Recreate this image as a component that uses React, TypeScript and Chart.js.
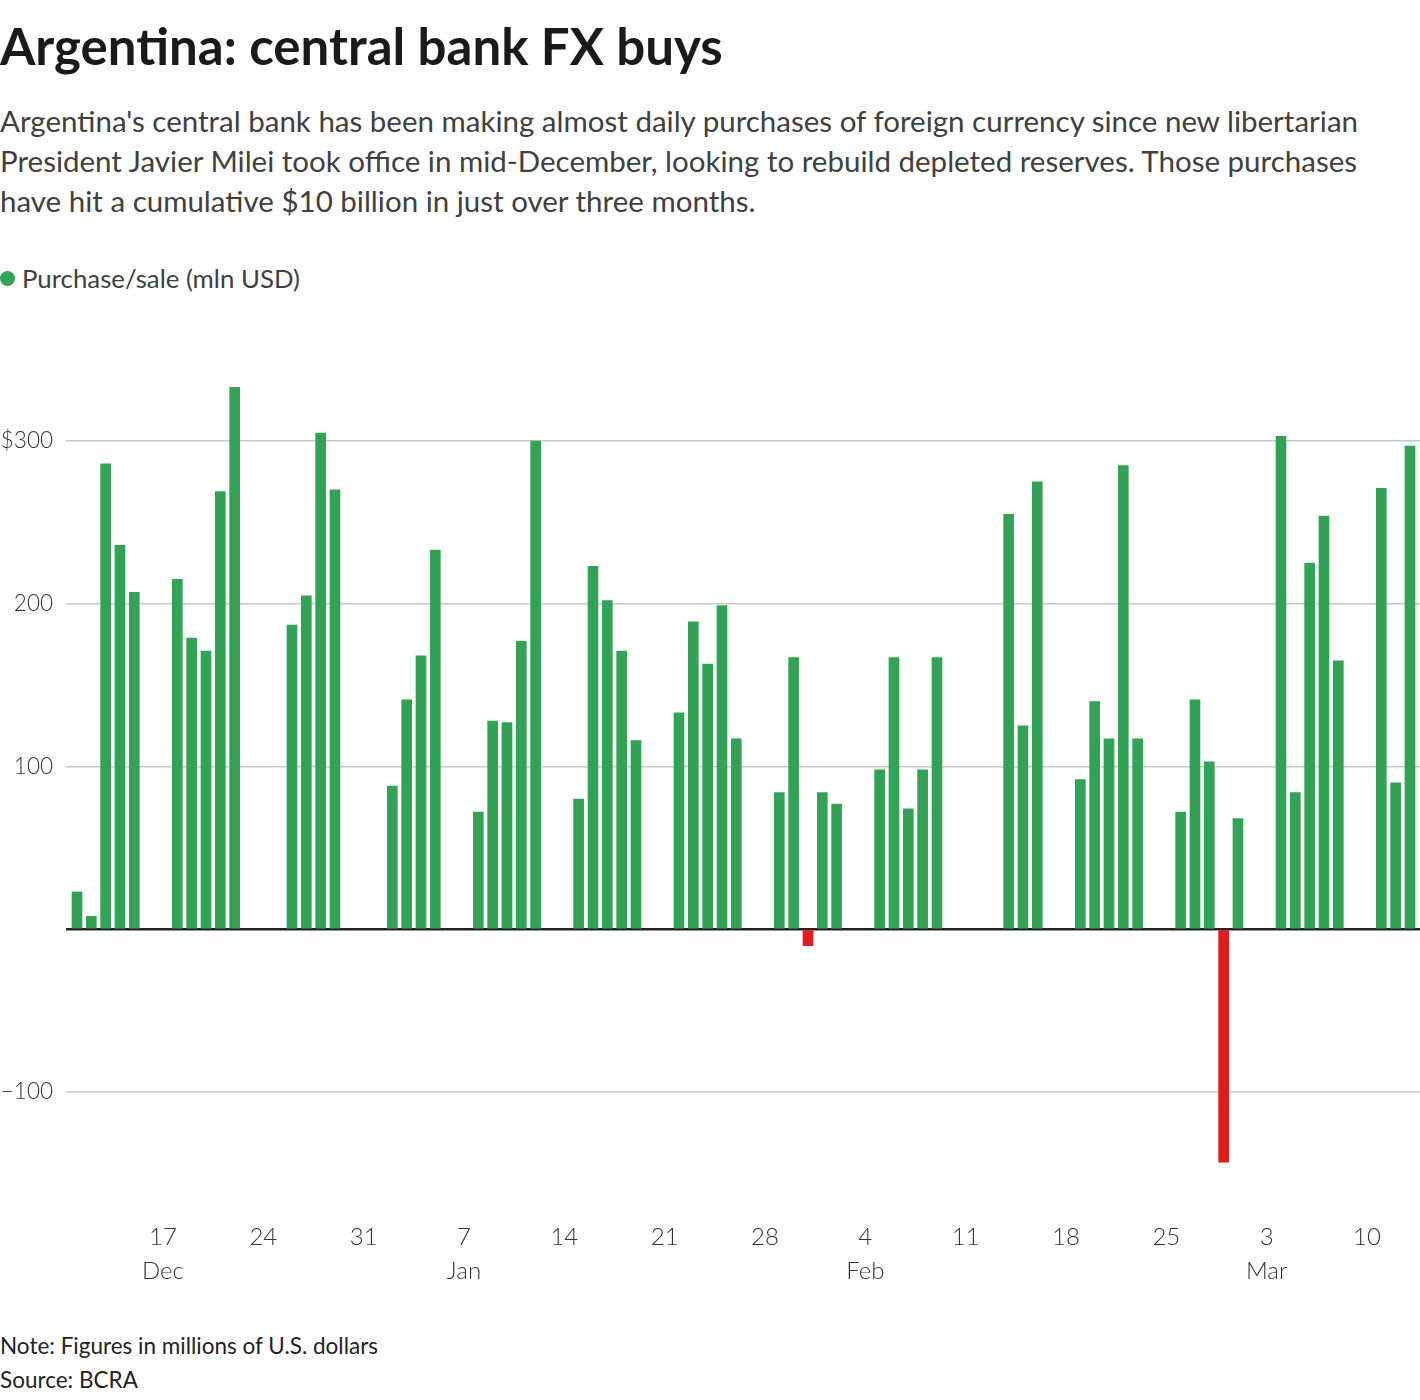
import React, { useEffect, useRef } from "react";
import { Chart, registerables } from "chart.js";

Chart.register(...registerables);

const START_DATE = "2023-12-11";

const dates: string[] = [
  "2023-12-11", "2023-12-12", "2023-12-13", "2023-12-14", "2023-12-15",
  "2023-12-18", "2023-12-19", "2023-12-20", "2023-12-21", "2023-12-22",
  "2023-12-26", "2023-12-27", "2023-12-28", "2023-12-29",
  "2024-01-02", "2024-01-03", "2024-01-04", "2024-01-05",
  "2024-01-08", "2024-01-09", "2024-01-10", "2024-01-11", "2024-01-12",
  "2024-01-15", "2024-01-16", "2024-01-17", "2024-01-18", "2024-01-19",
  "2024-01-22", "2024-01-23", "2024-01-24", "2024-01-25", "2024-01-26",
  "2024-01-29", "2024-01-30", "2024-01-31", "2024-02-01", "2024-02-02",
  "2024-02-05", "2024-02-06", "2024-02-07", "2024-02-08", "2024-02-09",
  "2024-02-14", "2024-02-15", "2024-02-16",
  "2024-02-19", "2024-02-20", "2024-02-21", "2024-02-22", "2024-02-23",
  "2024-02-26", "2024-02-27", "2024-02-28", "2024-02-29", "2024-03-01",
  "2024-03-04", "2024-03-05", "2024-03-06", "2024-03-07", "2024-03-08",
  "2024-03-11", "2024-03-12", "2024-03-13",
];

const purchases: number[] = [
  23, 8, 286, 236, 207,
  215, 179, 171, 269, 333,
  187, 205, 305, 270,
  88, 141, 168, 233,
  72, 128, 127, 177, 300,
  80, 223, 202, 171, 116,
  133, 189, 163, 199, 117,
  84, 167, -10, 84, 77,
  98, 167, 74, 98, 167,
  255, 125, 275,
  92, 140, 117, 285, 117,
  72, 141, 103, -143, 68,
  303, 84, 225, 254, 165,
  271, 90, 297,
];

const tickDates: string[] = [
  "2023-12-17", "2023-12-24", "2023-12-31", "2024-01-07", "2024-01-14",
  "2024-01-21", "2024-01-28", "2024-02-04", "2024-02-11", "2024-02-18",
  "2024-02-25", "2024-03-03", "2024-03-10",
];
const tickDayLabels: string[] = ["17", "24", "31", "7", "14", "21", "28", "4", "11", "18", "25", "3", "10"];
const tickMonthLabels: string[] = ["Dec", "", "", "Jan", "", "", "", "Feb", "", "", "", "Mar", ""];

const yTicks: number[] = [-100, 0, 100, 200, 300];
const yLabels: string[] = ["\u2212100", "", "100", "200", "$300"];

const GREEN = "#31a354";
const RED = "#e31a1c";
const FONT = "Lato, 'Noto Sans', sans-serif";

function dayIndex(d: string): number {
  const a = Date.UTC(+START_DATE.slice(0, 4), +START_DATE.slice(5, 7) - 1, +START_DATE.slice(8, 10));
  const b = Date.UTC(+d.slice(0, 4), +d.slice(5, 7) - 1, +d.slice(8, 10));
  return Math.round((b - a) / 86400000);
}

export default function App() {
  const ref = useRef<HTMLCanvasElement | null>(null);

  useEffect(() => {
    document.body.style.margin = "0";
    if (!ref.current) return;
    const tickValues = tickDates.map(dayIndex);
    const chart = new Chart(ref.current, {
      type: "bar",
      data: {
        datasets: [
          {
            label: "Purchase/sale (mln USD)",
            data: dates.map((d, i) => ({ x: dayIndex(d), y: purchases[i] })),
            backgroundColor: purchases.map((v) => (v < 0 ? RED : GREEN)),
            barThickness: 10,
            borderWidth: 0,
          },
        ],
      },
      options: {
        animation: false,
        responsive: false,
        layout: { padding: { top: 36, left: 0, right: 0, bottom: 0 } },
        plugins: { legend: { display: false }, tooltip: { enabled: false } },
        scales: {
          x: {
            type: "linear",
            offset: false,
            min: -0.767,
            max: 93.7,
            afterBuildTicks: (s: any) => {
              s.ticks = tickValues.map((v) => ({ value: v }));
            },
            afterFit: (s: any) => {
              s.height = 94;
            },
            ticks: {
              autoSkip: false,
              maxRotation: 0,
              padding: 14,
              color: "#333",
              font: { family: FONT, size: 24, weight: "300", lineHeight: 1.42 },
              callback: (v: any) => {
                const i = tickValues.indexOf(v);
                if (i < 0) return "";
                return tickMonthLabels[i] ? [tickDayLabels[i], tickMonthLabels[i]] : tickDayLabels[i];
              },
            },
            grid: { display: false, drawTicks: false },
            border: { display: false },
          },
          y: {
            min: -170,
            max: 340,
            afterBuildTicks: (s: any) => {
              s.ticks = yTicks.map((v) => ({ value: v }));
            },
            afterFit: (s: any) => {
              s.width = 66;
            },
            ticks: {
              padding: 13,
              color: "#333",
              font: { family: FONT, size: 22.5, weight: "300" },
              callback: (v: any) => {
                const i = yTicks.indexOf(v);
                return i < 0 ? "" : yLabels[i];
              },
            },
            grid: {
              drawTicks: false,
              color: (c: any) => (c.tick && c.tick.value === 0 ? "#222" : "#c8c8c8"),
              lineWidth: (c: any) => (c.tick && c.tick.value === 0 ? 2.5 : 1.5),
            },
            border: { display: false },
          },
        },
      },
    });
    return () => chart.destroy();
  }, []);

  return (
    <div style={{ position: "relative", width: 1420, height: 1400, background: "#fff", fontFamily: FONT, color: "#333" }}>
      <div style={{ position: "absolute", left: 0, top: 15, fontSize: 51, lineHeight: "61px", fontWeight: 700, color: "#1a1a1a", whiteSpace: "nowrap" }}>
        Argentina: central bank FX buys
      </div>
      <div style={{ position: "absolute", left: 0, top: 101, fontSize: 29.5, lineHeight: "40px", color: "#404040", whiteSpace: "nowrap" }}>
        Argentina's central bank has been making almost daily purchases of foreign currency since new libertarian
        <br />
        President Javier Milei took office in mid-December, looking to rebuild depleted reserves. Those purchases
        <br />
        have hit a cumulative $10 billion in just over three months.
      </div>
      <div style={{ position: "absolute", left: 0, top: 263, fontSize: 25.8, lineHeight: "30px", color: "#404040", whiteSpace: "nowrap", display: "flex", alignItems: "center" }}>
        <span style={{ display: "inline-block", width: 15, height: 15, borderRadius: "50%", background: GREEN, marginRight: 7 }} />
        Purchase/sale (mln USD)
      </div>
      <canvas ref={ref} width={1420} height={960} style={{ position: "absolute", left: 0, top: 340, width: 1420, height: 960 }} />
      <div style={{ position: "absolute", left: 0, top: 1329, fontSize: 22.5, lineHeight: "34px", color: "#222", whiteSpace: "nowrap" }}>
        Note: Figures in millions of U.S. dollars
        <br />
        Source: BCRA
      </div>
    </div>
  );
}
